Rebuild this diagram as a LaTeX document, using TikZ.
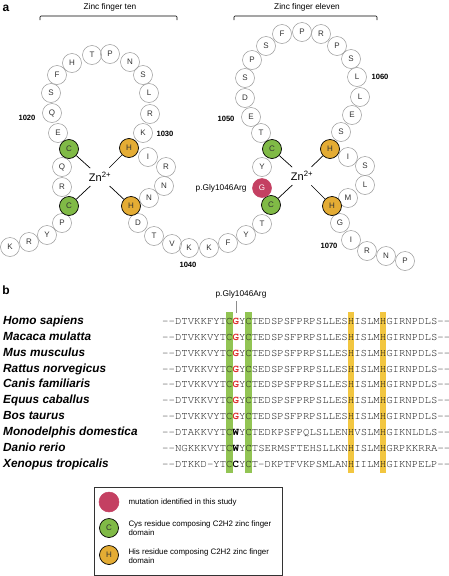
\documentclass[tikz,border=0pt]{standalone}
\usepackage{fontspec}
\setmainfont{Liberation Sans}
\setmonofont{TeX Gyre Cursor}

\definecolor{cysgreen}{RGB}{128,186,70}
\definecolor{hisgold}{RGB}{228,172,52}
\definecolor{mutred}{RGB}{196,64,98}
\definecolor{bargreen}{RGB}{146,196,84}
\definecolor{baryellow}{RGB}{242,198,64}
\definecolor{seqred}{RGB}{220,45,45}

\newcommand{\mutG}{\textcolor{seqred}{\textbf{G}}}
\newcommand{\bk}[1]{\textcolor{black}{\textbf{#1}}}

\tikzset{
  res/.style={circle, draw=black!40, line width=0.5pt, minimum size=19pt, inner sep=0pt,
    font=\fontsize{8}{8}\selectfont, text=black!80},
  cys/.style={res, draw=black, line width=0.7pt, fill=cysgreen},
  his/.style={res, draw=black, line width=0.7pt, fill=hisgold},
  mut/.style={res, draw=mutred, fill=mutred, text=white},
  num/.style={font=\fontsize{7.6}{8}\selectfont\bfseries},
  zn/.style={circle, inner sep=0pt, minimum size=26pt, font=\fontsize{11}{11}\selectfont},
  zinc/.style={line width=0.7pt},
  small/.style={font=\fontsize{8.3}{9.5}\selectfont},
  species/.style={anchor=base west, inner sep=0pt, font=\fontsize{11.8}{12}\selectfont\bfseries\itshape},
  seq/.style={anchor=base west, inner sep=0pt, font=\fontsize{10.67}{11}\ttfamily, text=black!90},
  panel/.style={font=\fontsize{12}{12}\selectfont\bfseries},
}

\begin{document}
\begin{tikzpicture}[x=1pt,y=-1pt]
  \useasboundingbox (0,0) rectangle (449,576);

  % panel a
  \node[panel] (pa) at (6,8) {a};
  \node[small] (zften) at (110,7) {Zinc finger ten};
  \node[small] (zfeleven) at (307,7) {Zinc finger eleven};
  \draw[line width=0.7pt, rounded corners=1pt] (40,20) -- (40,16) -- (177,16) -- (177,20);
  \draw[line width=0.7pt, rounded corners=1pt] (234,20) -- (234,16) -- (377,16) -- (377,20);

  % plain residues
  \foreach \n/\x/\y/\a in {1011/10/247/K, 1012/29/242/R, 1013/47/235/Y, 1014/62/223/P,
      1016/62/187/R, 1017/62/167/Q, 1019/58/133/E, 1020/52/113/Q, 1021/51/93/S,
      1022/57/75/F, 1023/72/63/H, 1024/92/55/T, 1025/110/54/P, 1026/130/62/N,
      1027/143/75/S, 1028/149/93/L, 1029/150/114/R, 1030/143/133/K,
      1032/148/157/I, 1033/166/167/R, 1034/164/186/N, 1035/149/198/N,
      1037/138/223/D, 1038/154/236/T, 1039/172/244/V, 1040/189/248/K,
      1041/209/248/K, 1042/228/243/F, 1043/246/235/Y, 1044/262/224/T,
      1047/262/167/Y, 1049/261/133/T, 1050/251/117/E, 1051/245/98/D,
      1052/245/78/S, 1053/252/60/P, 1054/266/46/S, 1055/282/34/F, 1056/302/32/P,
      1057/321/34/R, 1058/337/46/P, 1059/351/59/S, 1060/357/77/L, 1061/360/97/L,
      1062/352/115/E, 1063/341/132/S, 1065/348/157/I, 1066/365/166/S,
      1067/365/185/L, 1068/348/198/M, 1070/340/223/G, 1071/351/240/I,
      1072/367/251/R, 1073/386/256/N, 1074/405/261/P}
    \node[res] (r\n) at (\x,\y) {\a};

  % zinc binding residues
  \node[cys] (r1015) at (69,206) {C};
  \node[cys] (r1018) at (69,149) {C};
  \node[his] (r1031) at (129,148) {H};
  \node[his] (r1036) at (131,206) {H};
  \node[cys] (r1045) at (271,205) {C};
  \node[cys] (r1048) at (272,149) {C};
  \node[his] (r1064) at (330,149) {H};
  \node[his] (r1069) at (332,206) {H};
  \node[mut] (r1046) at (262,188) {G};

  \node[zn] (zna) at (100,177) {Zn\textsuperscript{2+}};
  \node[zn] (znb) at (302,176) {Zn\textsuperscript{2+}};
  \foreach \r in {1015,1018,1031,1036} \draw[zinc] (zna) -- (r\r);
  \foreach \r in {1045,1048,1064,1069} \draw[zinc] (znb) -- (r\r);

  \node[num] (n1020) at (27,118) {1020};
  \node[num] (n1030) at (165,134) {1030};
  \node[num] (n1040) at (188,265) {1040};
  \node[num] (n1050) at (226,119) {1050};
  \node[num] (n1060) at (380,77) {1060};
  \node[num] (n1070) at (329,246) {1070};
  \node[small, anchor=east] (mutlab) at (250,188) {p.Gly1046Arg};

  % panel b
  \node[panel] (pb) at (6,290) {b};
  \fill[bargreen] (225.9,312) rectangle (232.5,473);
  \fill[bargreen] (245.1,312) rectangle (251.7,473);
  \fill[baryellow] (347.5,312) rectangle (354.1,473);
  \fill[baryellow] (379.5,312) rectangle (386.1,473);
  \node[small] (glylab) at (241,294) {p.Gly1046Arg};
  \coordinate (gtick) at (236,313);
  \draw[black!45, line width=0.6pt] (gtick |- glylab.south) -- (gtick);

  \node[species] (sp1) at (3,324.5) {Homo sapiens};
  \node[species] (sp2) at (3,340.4) {Macaca mulatta};
  \node[species] (sp3) at (3,356.2) {Mus musculus};
  \node[species] (sp4) at (3,372.1) {Rattus norvegicus};
  \node[species] (sp5) at (3,387.9) {Canis familiaris};
  \node[species] (sp6) at (3,403.8) {Equus caballus};
  \node[species] (sp7) at (3,419.6) {Bos taurus};
  \node[species] (sp8) at (3,435.5) {Monodelphis domestica};
  \node[species] (sp9) at (3,451.3) {Danio rerio};
  \node[species] (sp10) at (3,467.2) {Xenopus tropicalis};

  \node[seq] (sq1) at (162,324.5) {--DTVKKFYTC\mutG YCTEDSPSFPRPSLLESHISLMHGIRNPDLS--};
  \node[seq] (sq2) at (162,340.4) {--DTVKKVYTC\mutG YCTEDSPSFPRPSLLESHISLMHGIRNPDLS--};
  \node[seq] (sq3) at (162,356.2) {--DTVKKVYTC\mutG YCTEDSPSFPRPSLLESHISLMHGIRNPDLS--};
  \node[seq] (sq4) at (162,372.1) {--DTVKKVYTC\mutG YCSEDSPSFPRPSLLESHISLMHGIRNPDLS--};
  \node[seq] (sq5) at (162,387.9) {--DTVKKVYTC\mutG YCTEDSPSFPRPSLLESHISLMHGIRNPDLS--};
  \node[seq] (sq6) at (162,403.8) {--DTVKKVYTC\mutG YCTEDSPSFPRPSLLESHISLMHGIRNPDLS--};
  \node[seq] (sq7) at (162,419.6) {--DTVKKVYTC\mutG YCTEDSPSFPRPSLLESHISLMHGIRNPDLS--};
  \node[seq] (sq8) at (162,435.5) {--DTAKKVYTC\bk{W}YCTEDKPSFPQLSLLENHVSLMHGIKNLDLS--};
  \node[seq] (sq9) at (162,451.3) {--NGKKKVYTC\bk{W}YCTSERMSFTEHSLLKNHISLMHGRPKKRRA--};
  \node[seq] (sq10) at (162,467.2) {--DTKKD-YTC\bk{C}YCT-DKPTFVKPSMLANHIILMHGIKNPELP--};

  % legend
  \draw[black!80, line width=0.7pt] (94,487) rectangle (282,575);
  \node[mut, minimum size=20pt] (lmut) at (109,502) {};
  \node[cys] (lcys) at (109,528) {C};
  \node[his] (lhis) at (109,555) {H};
  \node[small, anchor=west, align=left, font=\fontsize{7.9}{9.3}\selectfont] (tmut) at (125,502) {mutation identified in this study};
  \node[small, anchor=west, align=left, font=\fontsize{7.9}{9.3}\selectfont] (tcys) at (125,528.5) {Cys residue composing C2H2 zinc finger\\domain};
  \node[small, anchor=west, align=left, font=\fontsize{7.9}{9.3}\selectfont] (this) at (125,556) {His residue composing C2H2 zinc finger\\domain};
\end{tikzpicture}
\end{document}
